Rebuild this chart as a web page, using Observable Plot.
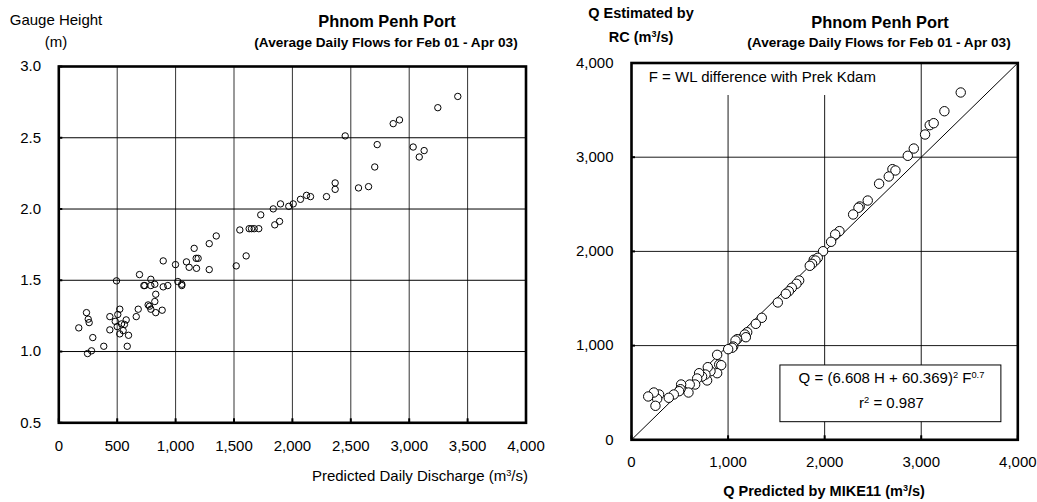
<!DOCTYPE html>
<html>
<head>
<meta charset="utf-8">
<script src="https://cdn.jsdelivr.net/npm/d3@7"></script>
<script src="https://cdn.jsdelivr.net/npm/@observablehq/plot@0.6"></script>
<style>
  html, body { margin: 0; padding: 0; background: #fff; }
  #wrap { position: relative; width: 1037px; height: 502px; overflow: hidden;
          font-family: "Liberation Sans", Arial, sans-serif; color: #000; }
  #wrap svg { position: absolute; top: 0; overflow: visible; }
  .lbl { position: absolute; white-space: nowrap; line-height: 1; transform: translate(-50%, -50%); }
  .b { font-weight: bold; }
  .sup { font-size: 0.62em; vertical-align: 0.5em; }
</style>
</head>
<body>
<div id="wrap">
  <div class="lbl" style="left:56px;top:19px;font-size:15px;">Gauge Height</div>
  <div class="lbl" style="left:56px;top:41px;font-size:15px;">(m)</div>
  <div class="lbl b" style="left:387px;top:21px;font-size:16.4px;">Phnom Penh Port</div>
  <div class="lbl b" style="left:386px;top:43px;font-size:13.6px;">(Average Daily Flows for Feb 01 - Apr 03)</div>
  <div class="lbl" style="left:528px;top:475px;font-size:15px;transform:translate(-100%,-50%);">Predicted Daily Discharge (m<span class="sup">3</span>/s)</div>

  <div class="lbl b" style="left:641px;top:13px;font-size:14.5px;">Q Estimated by</div>
  <div class="lbl b" style="left:641px;top:37px;font-size:14.5px;">RC (m<span class="sup">3</span>/s)</div>
  <div class="lbl b" style="left:880px;top:22px;font-size:16.4px;">Phnom Penh Port</div>
  <div class="lbl b" style="left:879px;top:43px;font-size:13.6px;">(Average Daily Flows for Feb 01 - Apr 03)</div>
  <div class="lbl b" style="left:824px;top:491px;font-size:14.5px;">Q Predicted by MIKE11 (m<span class="sup">3</span>/s)</div>
</div>
<script>
// Gauge height against predicted daily discharge (left panel)
const gaugeDischarge = [171,237,252,260,291,246,280,385,494,437,437,483,505,522,500,522,537,551,577,562,
  597,586,663,680,691,728,736,788,788,822,830,822,765,777,788,830,885,894,933,894,999,1019,1053,1053,
  1093,1116,1159,1176,1193,1179,1288,1288,1519,1604,1348,1550,1630,1650,1673,1712,1729,1849,1890,1836,
  1898,1969,2007,2069,2121,2155,2292,2366,2366,2452,2566,2652,2705,2726,2863,2917,3034,3086,3128,3245,3416];
const gaugeHeight = [1.166,1.273,1.227,1.203,1.098,0.986,1.005,1.037,1.496,1.245,1.152,1.212,1.26,1.297,
  1.175,1.124,1.194,1.147,1.222,1.19,1.114,1.037,1.245,1.297,1.54,1.463,1.463,1.507,1.463,1.472,1.402,
  1.351,1.327,1.318,1.297,1.273,1.29,1.454,1.463,1.636,1.61,1.491,1.472,1.463,1.629,1.591,1.724,1.654,
  1.654,1.584,1.757,1.575,1.601,1.671,1.811,1.853,1.862,1.862,1.862,1.862,1.959,1.889,1.913,2.001,2.036,
  2.019,2.036,2.068,2.096,2.087,2.087,2.183,2.138,2.513,2.148,2.157,2.295,2.452,2.599,2.625,2.435,2.365,
  2.41,2.711,2.79];

// Rating-curve discharge against MIKE11 discharge (right panel)
const mikeQ = [3409,3240,3088,3129,3040,2923,2861,2702,2733,2664,2564,2446,2363,2350,2295,2153,2109,2067,
  1984,1887,1929,1905,1870,1846,1736,1708,1660,1629,1598,1515,1349,1287,1198,1173,1184,1094,1077,1053,
  1042,1001,887,908,929,887,818,790,783,766,731,700,680,659,603,590,514,507,493,438,386,286,266,231,173,248];
const rcQ = [3687,3488,3340,3361,3241,3092,3015,2873,2859,2795,2718,2540,2477,2463,2392,2215,2180,2102,
  2002,1911,1932,1903,1868,1847,1691,1656,1614,1577,1550,1458,1295,1231,1142,1118,1089,1068,1054,990,
  977,962,902,799,792,707,728,771,630,693,672,707,651,587,587,502,587,537,516,481,446,481,435,502,460,361];

// Axis ticks
const leftXTicks = [0,500,1000,1500,2000,2500,3000,3500,4000];
const leftYTicks = [0.5,1.0,1.5,2.0,2.5,3.0];
const rightTicks = [0,1000,2000,3000,4000];

// 1:1 reference line
const parityQ = [0, 4000];

// Notes on the right panel
const noteText = ["F = WL difference with Prek Kdam"];
const noteAt = {x: 179, y: 3849};
const noteBack = {x1: 145, x2: 2570, y1: 3655, y2: 4000};
const eqLines = ["Q = (6.608 H + 60.369)^{2} F^{0.7}", "r^{2} = 0.987"];
const eqLineX = [2692, 2692];
const eqLineY = [658, 389];
const eqBox = {x1: 1542, x2: 3830, y1: 187, y2: 789};

const font = "Liberation Sans, Arial, sans-serif";
const fmtComma = d3.format(",");

const gaugeRows = gaugeDischarge.map((q, i) => ({q, h: gaugeHeight[i]}));
const rcRows = mikeQ.map((m, i) => ({m, rc: rcQ[i]}));

const leftChart = Plot.plot({
  width: 540, height: 502,
  marginLeft: 58.3, marginRight: 14.5, marginTop: 66, marginBottom: 79.7,
  style: {fontFamily: font, fontSize: "15px", background: "transparent", color: "#000", overflow: "visible"},
  x: {domain: [0, 4000]},
  y: {domain: [0.5, 3.0]},
  marks: [
    Plot.gridX(leftXTicks, {stroke: "#000", strokeOpacity: 0.8, strokeWidth: 1}),
    Plot.gridY(leftYTicks, {stroke: "#000", strokeOpacity: 1, strokeWidth: 1}),
    Plot.dot(gaugeRows, {x: "q", y: "h", r: 3.2, stroke: "#000", strokeWidth: 1, fill: "none"}),
    Plot.axisX(leftXTicks, {tickSize: -4, strokeWidth: 2, tickPadding: 22, tickFormat: fmtComma, label: null}),
    Plot.axisY(leftYTicks, {tickSize: -4, strokeWidth: 2, tickPadding: 21.7, tickFormat: d3.format(".1f"), label: null}),
    Plot.frame({stroke: "#000", strokeWidth: 2.6})
  ]
});

const rightChart = Plot.plot({
  width: 497, height: 502,
  marginLeft: 91, marginRight: 19.7, marginTop: 62.5, marginBottom: 62.7,
  style: {fontFamily: font, fontSize: "15px", background: "transparent", color: "#000", overflow: "visible"},
  x: {domain: [0, 4000]},
  y: {domain: [0, 4000]},
  marks: [
    Plot.gridX(rightTicks, {stroke: "#000", strokeOpacity: 0.9, strokeWidth: 1}),
    Plot.gridY(rightTicks, {stroke: "#000", strokeOpacity: 0.9, strokeWidth: 1}),
    Plot.rect([noteBack], {x1: "x1", x2: "x2", y1: "y1", y2: "y2", fill: "#fff"}),
    Plot.line(parityQ, {x: d => d, y: d => d, stroke: "#000", strokeWidth: 1}),
    Plot.dot(rcRows, {x: "m", y: "rc", r: 4.7, stroke: "#000", strokeWidth: 1, fill: "#fff"}),
    Plot.rect([eqBox], {x1: "x1", x2: "x2", y1: "y1", y2: "y2", fill: "#fff", stroke: "#000", strokeWidth: 1}),
    Plot.text(noteText, {x: () => noteAt.x, y: () => noteAt.y, text: d => d, textAnchor: "start", fontSize: 15}),
    Plot.text(eqLines, {x: (d, i) => eqLineX[i], y: (d, i) => eqLineY[i], text: d => d, fontSize: 15}),
    Plot.axisX(rightTicks, {tickSize: -4, strokeWidth: 2, tickPadding: 21, tickFormat: fmtComma, label: null}),
    Plot.axisY(rightTicks, {tickSize: -4, strokeWidth: 2, tickPadding: 22, tickFormat: fmtComma, label: null}),
    Plot.frame({stroke: "#000", strokeWidth: 2.6})
  ]
});

// Turn ^{...} markup into raised tspans
function raiseSuperscripts(svg) {
  d3.select(svg).selectAll("text").each(function () {
    const t = this.textContent;
    if (!t.includes("^{")) return;
    const parts = t.split(/\^\{([^}]*)\}/);
    const sel = d3.select(this);
    sel.text(null);
    parts.forEach((p, i) => {
      if (!p) return;
      const span = sel.append("tspan").text(p);
      if (i % 2) span.attr("baseline-shift", "super").attr("font-size", "0.62em");
    });
  });
}
raiseSuperscripts(rightChart);

const wrap = document.getElementById("wrap");
leftChart.style.left = "0px";
leftChart.style.overflow = "visible";
rightChart.style.left = "540px";
rightChart.style.overflow = "visible";
wrap.prepend(rightChart);
wrap.prepend(leftChart);
</script>
</body>
</html>
